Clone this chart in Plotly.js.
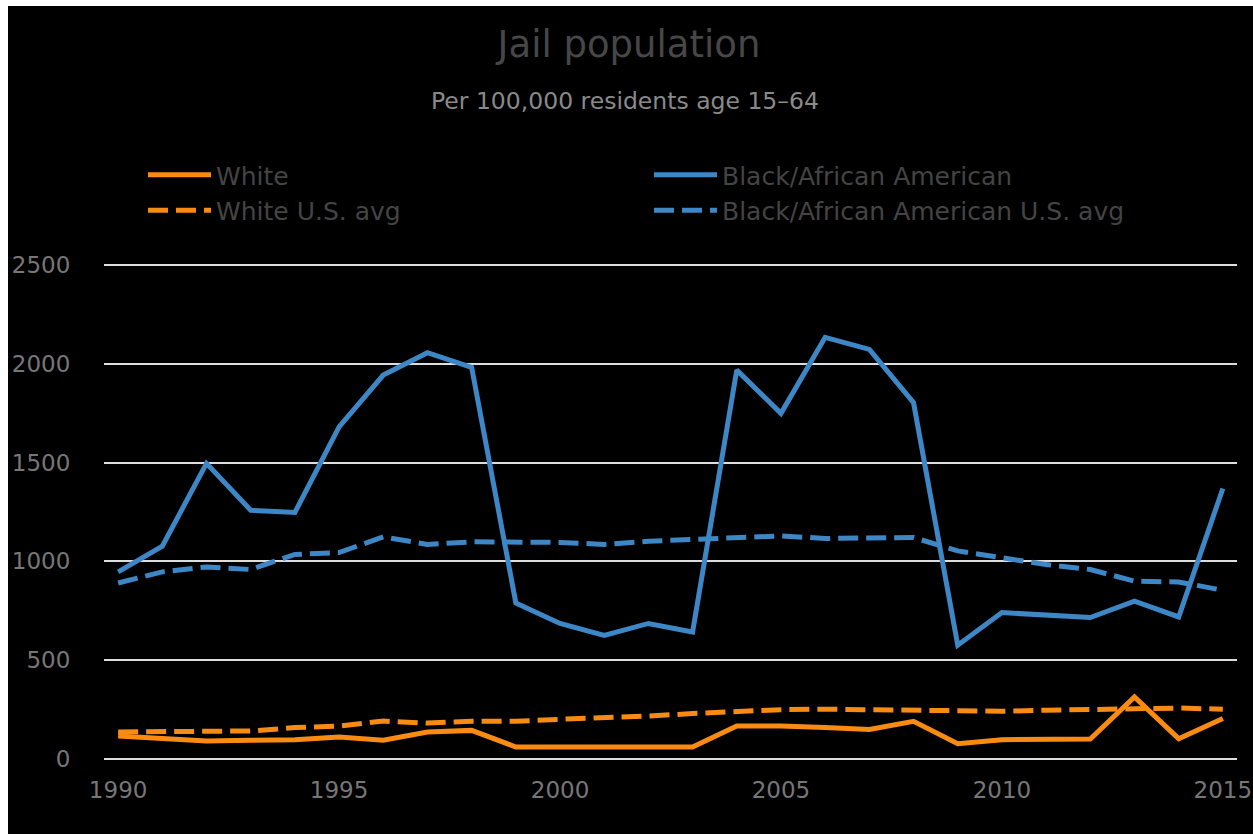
<!DOCTYPE html>
<html>
<head>
<meta charset="utf-8">
<script src="https://cdn.plot.ly/plotly-3.0.1.min.js"></script>
<style>
  html, body { margin: 0; padding: 0; background: #ffffff; }
  #chart { position: absolute; left: 8px; top: 6px; width: 1245px; height: 828px; }
</style>
</head>
<body>
<div id="chart"></div>
<script>
const years = [1990,1991,1992,1993,1994,1995,1996,1997,1998,1999,2000,2001,2002,2003,2004,2005,2006,2007,2008,2009,2010,2011,2012,2013,2014,2015];

const white = [117,103,91,95,98,111,95,137,145,61,61,61,66,61,167,167,159,150,191,78,98,100,101,314,103,205];
const whiteAvg = [137,137,142,142,159,167,192,182,191,191,201,208,218,230,242,250,252,250,247,242,242,247,252,255,258,252];
const black = [947,1077,1496,1259,1248,1681,1943,2056,1982,790,686,626,686,643,1968,1749,2134,2073,1803,576,741,731,716,799,719,1369];
const blackAvg = [891,947,972,959,1035,1045,1124,1086,1099,1096,1096,1086,1102,1111,1119,1129,1116,1121,1121,1053,1018,984,959,900,896,854];

const yTicks = [0,500,1000,1500,2000,2500];
const xTicks = [1990,1995,2000,2005,2010,2015];

const ORANGE = '#F98B12';
const BLUE = '#3D87C6';
const FONT = 'DejaVu Sans, Verdana, sans-serif';

const traces = [
  {x: years, y: whiteAvg, name: 'White U.S. avg', mode: 'lines', legend: 'legend', legendgroup: 'wa', legendrank: 2,
   line: {color: ORANGE, width: 5, dash: '20px,8px'}},
  {x: years, y: blackAvg, name: 'Black/African American U.S. avg', mode: 'lines', legend: 'legend2', legendgroup: 'ba', legendrank: 2,
   line: {color: BLUE, width: 5, dash: '20px,8px'}},
  {x: years, y: white, name: 'White', mode: 'lines', legend: 'legend', legendgroup: 'w', legendrank: 1,
   line: {color: ORANGE, width: 5}},
  {x: years, y: black, name: 'Black/African American', mode: 'lines', legend: 'legend2', legendgroup: 'b', legendrank: 1,
   line: {color: BLUE, width: 5}}
];

const legendCommon = {
  orientation: 'v', xref: 'container', yref: 'container', xanchor: 'left', yanchor: 'top',
  bgcolor: 'rgba(0,0,0,0)', borderwidth: 0, tracegroupgap: 0, itemwidth: 63,
  font: {family: FONT, size: 25, color: '#444444'}, itemclick: false, itemdoubleclick: false
};

const plotTop = 256, plotBottom = 756, plotH = plotBottom - plotTop;

const layout = {
  width: 1245, height: 828,
  paper_bgcolor: '#000000', plot_bgcolor: '#000000',
  margin: {l: 96, r: 16, t: plotTop, b: 828 - plotBottom, pad: 0, autoexpand: false},
  title: {text: 'Jail population', font: {family: FONT, size: 37, color: '#474747'},
          x: 621/1245, xanchor: 'center', y: 1 - 38/828, yanchor: 'middle', xref: 'container', yref: 'container'},
  annotations: [{
    text: 'Per 100,000 residents age 15\u201364', showarrow: false,
    xref: 'paper', yref: 'paper', x: (617 - 96) / (1245 - 96 - 16), xanchor: 'center',
    y: (plotBottom - 95) / plotH, yanchor: 'middle',
    font: {family: FONT, size: 23.5, color: '#8a8a8a'}
  }],
  showlegend: true,
  legend: Object.assign({}, legendCommon, {x: 135/1245, y: 1 - 146/828}),
  legend2: Object.assign({}, legendCommon, {x: 641/1245, y: 1 - 146/828}),
  xaxis: {
    range: [1989.68, 2015.32], tickvals: xTicks, ticktext: xTicks.map(String),
    showgrid: false, zeroline: false, showline: false, tickangle: 0,
    ticks: 'outside', ticklen: 7, tickcolor: 'rgba(0,0,0,0)',
    tickfont: {family: FONT, size: 23, color: '#777777'}
  },
  yaxis: {
    range: [-15, 2515], tickvals: yTicks, ticktext: yTicks.map(String),
    showgrid: true, gridcolor: '#DDDDDD', gridwidth: 2, zeroline: false, showline: false,
    ticks: 'outside', ticklen: 28, tickcolor: 'rgba(0,0,0,0)',
    tickfont: {family: FONT, size: 23, color: '#777777'}
  },
  hovermode: false
};

Plotly.newPlot('chart', traces, layout, {displayModeBar: false, staticPlot: true});
</script>
</body>
</html>
